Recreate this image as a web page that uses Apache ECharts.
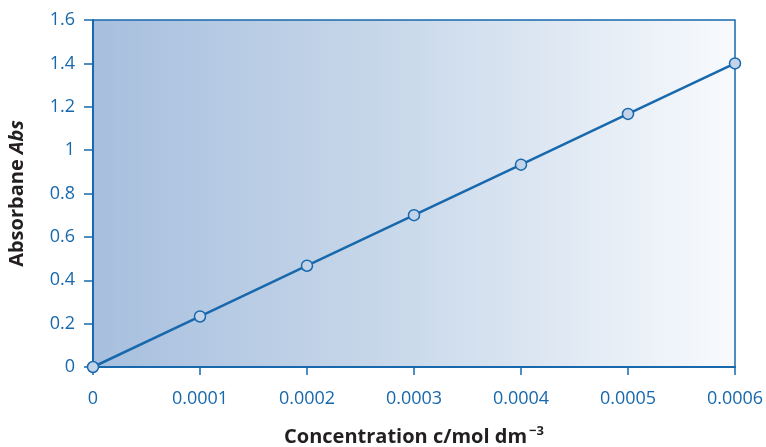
<!DOCTYPE html>
<html>
<head>
<meta charset="utf-8">
<script src="https://cdn.jsdelivr.net/npm/echarts@6/dist/echarts.min.js"></script>
<style>html,body{margin:0;padding:0;background:#fff;}#c{width:766px;height:447px;}</style>
</head>
<body>
<div id="c"></div>
<script>
var concentration = [0, 0.0001, 0.0002, 0.0003, 0.0004, 0.0005, 0.0006];
var absorbance = [0, 0.233, 0.467, 0.7, 0.933, 1.167, 1.4];
var xTitle = 'Concentration c/mol dm';
var xTitleSup = '\u22123';
var yTitle = 'Absorbane ';
var yTitleItalic = 'Abs';

var blue = '#1768ac';
var font = '"Open Sans", sans-serif';
var chart = echarts.init(document.getElementById('c'));
chart.setOption({
  animation: false,
  grid: {
    left: 93, right: 31, top: 20, bottom: 80,
    outerBoundsMode: 'none',
    containLabel: false,
    show: true,
    borderColor: blue, borderWidth: 1.5,
    backgroundColor: new echarts.graphic.LinearGradient(0, 0, 1, 0, [
      {offset: 0, color: '#a7bfde'},
      {offset: 0.5, color: '#cbdaeb'},
      {offset: 1, color: '#f8fafd'}
    ])
  },
  xAxis: {
    type: 'value', min: 0, max: 0.0006, interval: 0.0001,
    name: '{a|' + xTitle + '}{s|' + xTitleSup + '}',
    nameLocation: 'middle', nameGap: 57,
    nameTextStyle: {
      rich: {
        a: {fontFamily: font, fontWeight: 'bold', fontSize: 20, lineHeight: 26, color: '#231f20'},
        s: {fontFamily: font, fontWeight: 'bold', fontSize: 13, lineHeight: 13, color: '#231f20', padding: [0, 0, 11, 2]}
      }
    },
    axisLine: {show: true, lineStyle: {color: blue, width: 2}},
    axisTick: {show: true, inside: false, length: 8, lineStyle: {color: blue, width: 1.5}},
    axisLabel: {
      color: blue, fontFamily: font, fontSize: 18, margin: 23,
      formatter: function (v) { return v === 0 ? '0' : v.toFixed(4); }
    },
    splitLine: {show: false}
  },
  yAxis: {
    type: 'value', min: 0, max: 1.6, interval: 0.2,
    name: '{a|' + yTitle + '}{b|' + yTitleItalic + '}',
    nameLocation: 'middle', nameGap: 66, nameRotate: 90,
    nameTextStyle: {
      rich: {
        a: {fontFamily: font, fontWeight: 'bold', fontSize: 20, color: '#231f20'},
        b: {fontFamily: font, fontWeight: 'bold', fontStyle: 'italic', fontSize: 20, color: '#231f20'}
      }
    },
    axisLine: {show: true, lineStyle: {color: blue, width: 2}},
    axisTick: {show: true, inside: false, length: 9, lineStyle: {color: blue, width: 1.5}},
    axisLabel: {
      color: blue, fontFamily: font, fontSize: 18, margin: 18,
      formatter: function (v) { return String(+v.toFixed(1)); }
    },
    splitLine: {show: false}
  },
  series: [{
    type: 'line',
    data: concentration.map(function (c, i) { return [c, absorbance[i]]; }),
    symbol: 'circle', symbolSize: 11,
    lineStyle: {color: blue, width: 2.5},
    itemStyle: {color: '#c3d4ea', borderColor: blue, borderWidth: 1.5},
    clip: false,
    z: 5
  }]
});
</script>
</body>
</html>
